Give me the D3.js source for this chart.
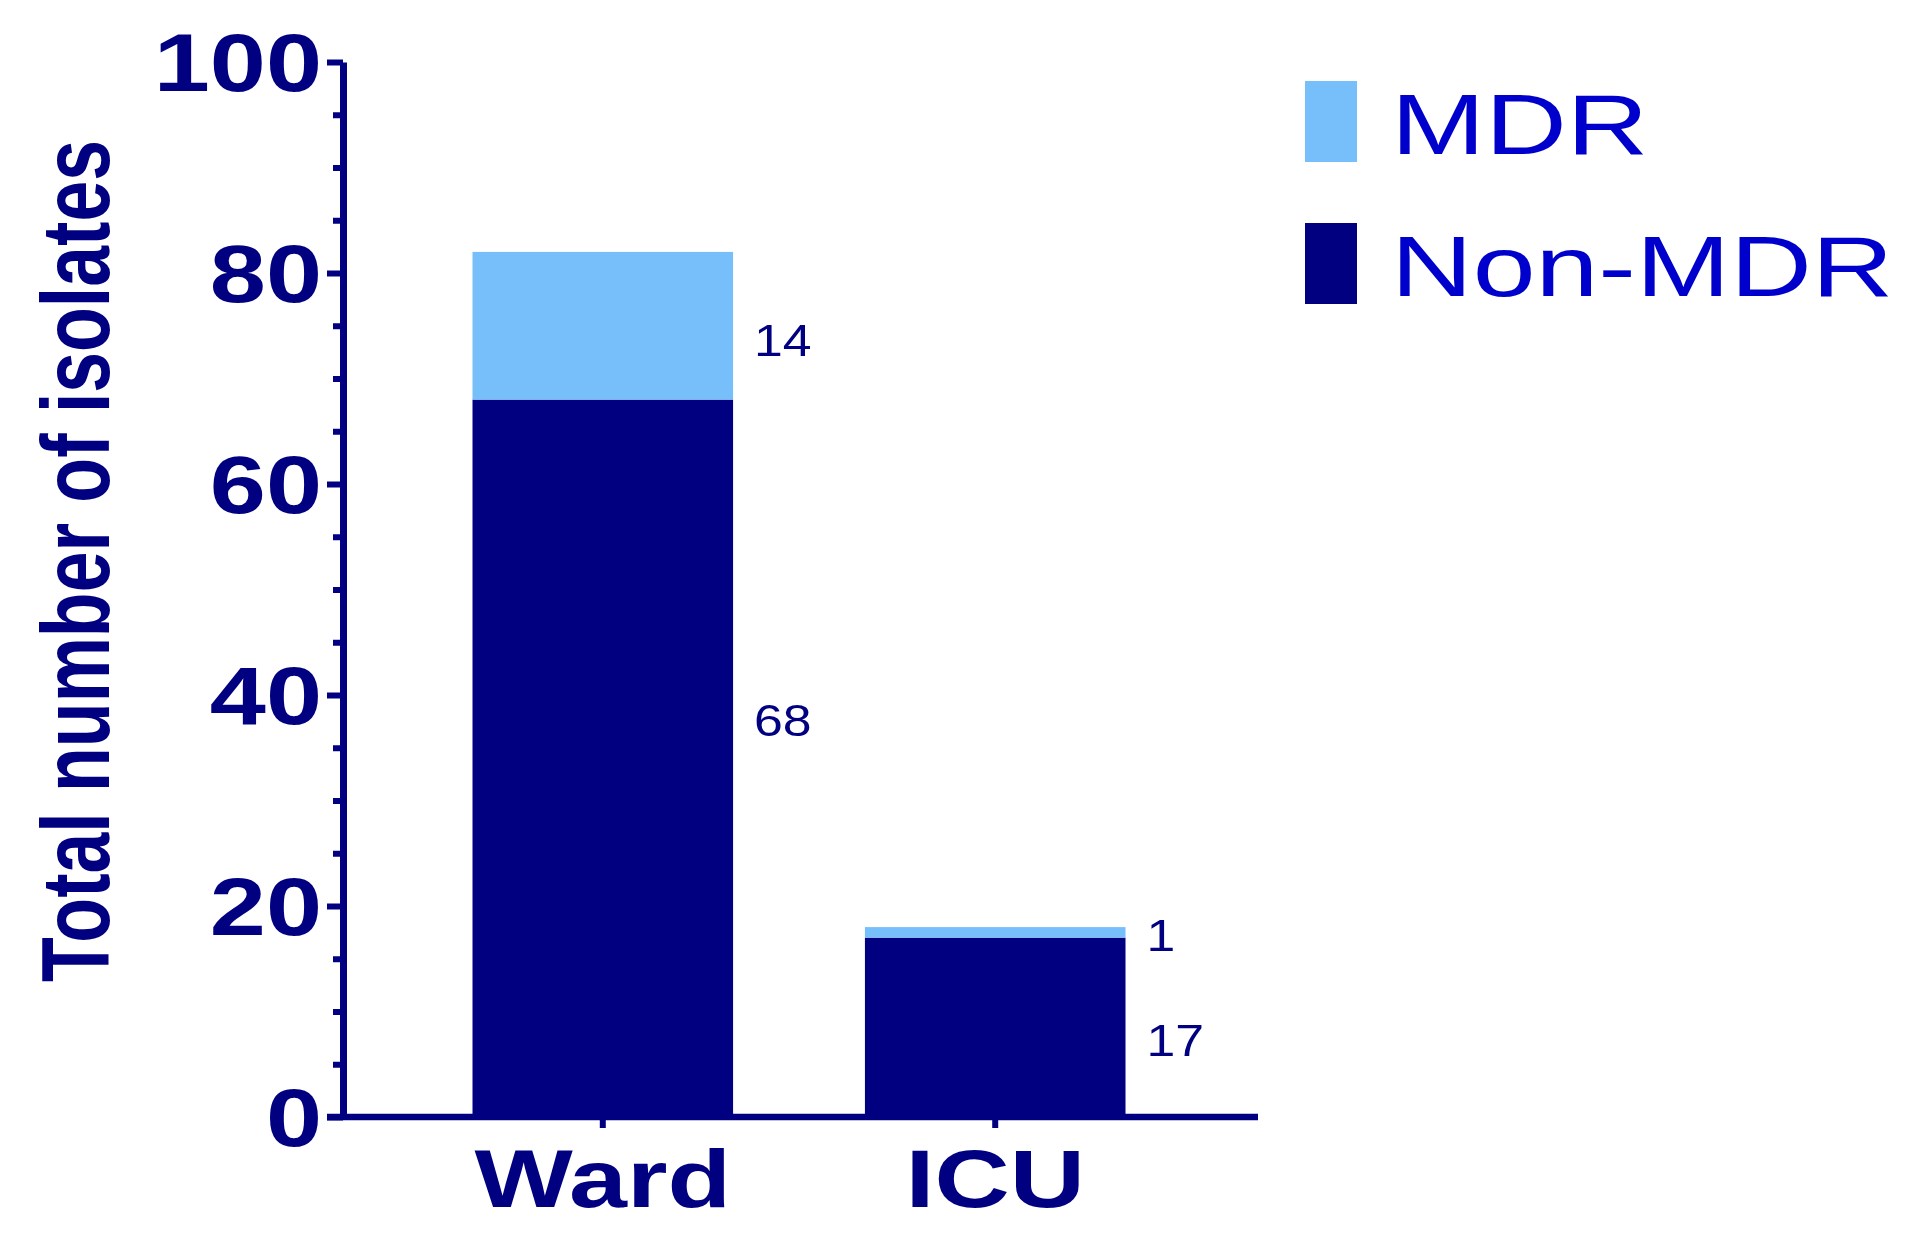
<!DOCTYPE html>
<html>
<head>
<meta charset="utf-8">
<script src="https://cdn.jsdelivr.net/npm/d3@7"></script>
<style>
  html, body { margin: 0; padding: 0; background: #ffffff; }
  svg { display: block; }
</style>
</head>
<body>
<svg id="chart" width="1925" height="1241"></svg>
<script>
// ---- data ----
const categories = ["Ward", "ICU"];
const seriesNames = ["Non-MDR", "MDR"];
const nonMdrValues = [68, 17];
const mdrValues = [14, 1];
const yTickValues = [0, 20, 40, 60, 80, 100];
const yMinorTickValues = [5, 10, 15, 25, 30, 35, 45, 50, 55, 65, 70, 75, 85, 90, 95];
const yTitle = "Total number of isolates";

// ---- styles ----
const navy = "#000080";
const lightBlue = "#76BFFA";
const legendText = "#0000CC";
const font = "'Liberation Sans', Arial, Helvetica, sans-serif";
// pixel nudges of the value labels from the segment centres (layout only)
const labelNudge = { "Ward|MDR": 14, "Ward|Non-MDR": -38, "ICU|MDR": 3, "ICU|Non-MDR": 13 };

const svg = d3.select("#chart");

const y = d3.scaleLinear().domain([0, 100]).range([1117, 62]);
const x = d3.scaleBand().domain(categories).range([343, 1255])
  .paddingInner(0.336).paddingOuter(0.33);

const rows = categories.map((c, i) => ({ cat: c, "Non-MDR": nonMdrValues[i], "MDR": mdrValues[i] }));
const stacked = d3.stack().keys(seriesNames)(rows);
const color = d3.scaleOrdinal().domain(seriesNames).range([navy, lightBlue]);

// bars
svg.append("g").selectAll("g").data(stacked).join("g")
  .attr("fill", d => color(d.key))
  .selectAll("rect").data(d => d.map(v => ({ v, key: d.key })))
  .join("rect")
  .attr("x", d => x(d.v.data.cat))
  .attr("width", x.bandwidth())
  .attr("y", d => y(d.v[1]))
  .attr("height", d => y(d.v[0]) - y(d.v[1]));

// value labels
svg.append("g").selectAll("g").data(stacked).join("g")
  .selectAll("text").data(d => d.map(v => ({ v, key: d.key })))
  .join("text")
  .attr("transform", d => {
    const cy = (y(d.v[0]) + y(d.v[1])) / 2 + labelNudge[d.v.data.cat + "|" + d.key];
    return `translate(${x(d.v.data.cat) + x.bandwidth() + 21},${cy}) scale(1.15,1)`;
  })
  .attr("dominant-baseline", "central")
  .attr("font-family", font)
  .attr("font-size", 45)
  .attr("fill", navy)
  .text(d => d.v[1] - d.v[0]);

// y axis minor ticks
const yMinor = svg.append("g").attr("transform", "translate(343,0)")
  .call(d3.axisLeft(y).tickValues(yMinorTickValues).tickSize(10).tickFormat(""));
yMinor.select(".domain").remove();
yMinor.selectAll("line").attr("stroke", navy).attr("stroke-width", 6);

// y axis major
const yAxis = svg.append("g").attr("transform", "translate(343,0)")
  .call(d3.axisLeft(y).tickValues(yTickValues).tickSize(16).tickSizeOuter(0).tickPadding(0));
yAxis.select(".domain").attr("stroke", navy).attr("stroke-width", 7);
yAxis.selectAll("line").attr("stroke", navy).attr("stroke-width", 6);
yAxis.selectAll("text")
  .attr("x", null).attr("dy", null)
  .attr("transform", "translate(-21,0) scale(1.23,1)")
  .attr("dominant-baseline", "central")
  .attr("text-anchor", "end")
  .attr("font-family", font).attr("font-weight", "bold")
  .attr("font-size", 82).attr("fill", navy);

// x axis
const xAxis = svg.append("g").attr("transform", "translate(0,1117)")
  .call(d3.axisBottom(x).tickSize(11).tickSizeOuter(0).tickPadding(0));
xAxis.select(".domain").attr("stroke", navy).attr("stroke-width", 6.5)
  .attr("d", "M327,0H1258");
xAxis.selectAll("line").attr("stroke", navy).attr("stroke-width", 6);
xAxis.selectAll("text")
  .attr("y", null).attr("dy", null)
  .attr("transform", "translate(0,90) scale(1.27,1)")
  .attr("text-anchor", "middle")
  .attr("font-family", font).attr("font-weight", "bold")
  .attr("font-size", 82).attr("fill", navy);

// y title
svg.append("text")
  .attr("transform", "translate(109,982) scale(1.32,1) rotate(-90)")
  .attr("text-anchor", "start")
  .attr("font-family", font).attr("font-weight", "bold")
  .attr("font-size", 73)
  .attr("textLength", 842).attr("lengthAdjust", "spacingAndGlyphs")
  .attr("fill", navy)
  .text(yTitle);

// legend
const legendOrder = ["MDR", "Non-MDR"];
const lg = svg.append("g").selectAll("g").data(legendOrder).join("g")
  .attr("transform", (d, i) => `translate(1305,${81 + i * 142})`);
lg.append("rect").attr("width", 52).attr("height", 81).attr("fill", d => color(d));
lg.append("text")
  .attr("transform", "translate(86,73) scale(1.33,1)")
  .attr("font-family", font).attr("font-size", 85)
  .attr("fill", legendText)
  .text(d => d);
</script>
</body>
</html>
